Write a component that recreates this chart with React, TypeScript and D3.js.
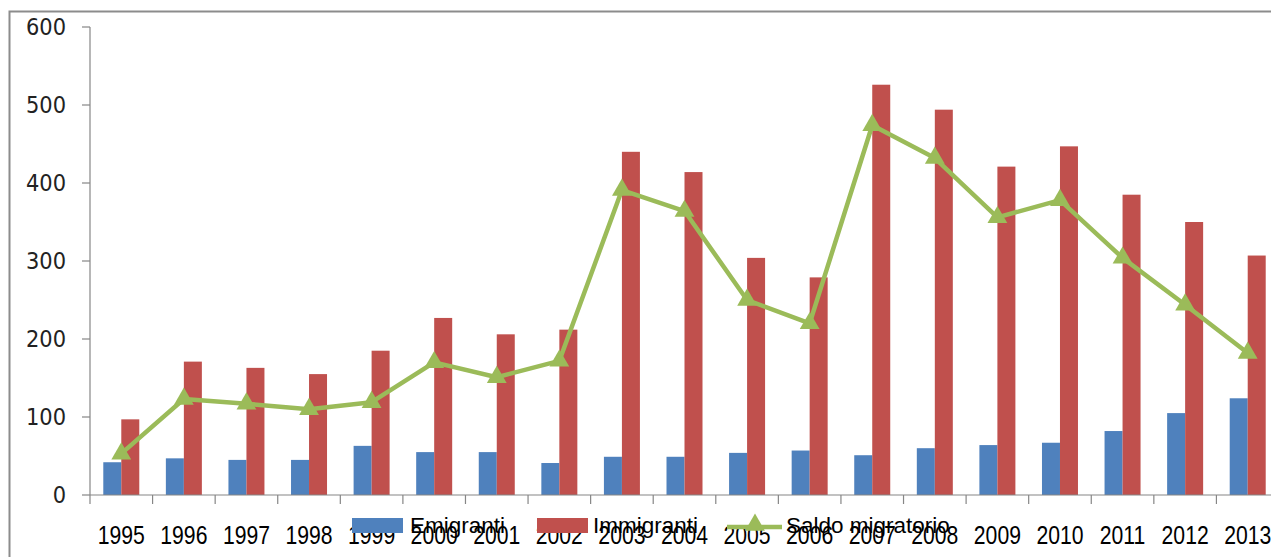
import { useEffect, useRef } from 'react';
import * as d3 from 'd3';

const years = ['1995', '1996', '1997', '1998', '1999', '2000', '2001', '2002', '2003', '2004',
  '2005', '2006', '2007', '2008', '2009', '2010', '2011', '2012', '2013'];
const emigranti = [42, 47, 45, 45, 63, 55, 55, 41, 49, 49, 54, 57, 51, 60, 64, 67, 82, 105, 124];
const immigranti = [97, 171, 163, 155, 185, 227, 206, 212, 440, 414, 304, 279, 526, 494, 421, 447, 385, 350, 307];
const saldo = [53, 123, 117, 110, 119, 170, 151, 172, 391, 364, 250, 220, 474, 432, 356, 378, 304, 244, 182];
const yTicks = [0, 100, 200, 300, 400, 500, 600];
const seriesNames = ['Emigranti', 'Immigranti', 'Saldo migratorio'];

const BLUE = '#4F81BD';
const RED = '#C0504D';
const GREEN = '#9BBB59';
const AXIS = '#868686';

export default function App() {
  const svgRef = useRef<SVGSVGElement>(null);

  useEffect(() => {
    if (!svgRef.current) return;
    const svg = d3.select(svgRef.current);
    svg.selectAll('*').remove();

    const width = 1271;
    const height = 557;
    const left = 90;
    const right = 1279;
    const top = 27;
    const bottom = 495;

    svg.append('rect').attr('width', width).attr('height', height).attr('fill', '#fff');

    // outer chart frame (cropped on right/bottom)
    svg.append('path')
      .attr('d', `M9.5,${height + 5} V11.5 H${width + 5}`)
      .attr('fill', 'none')
      .attr('stroke', '#8c8c8c')
      .attr('stroke-width', 2);

    const x = d3.scaleBand().domain(years).range([left, right]).paddingInner(0).paddingOuter(0);
    const y = d3.scaleLinear().domain([0, 600]).range([bottom, top]);
    const barW = 18;

    // y axis
    svg.append('line')
      .attr('x1', left).attr('x2', left).attr('y1', top).attr('y2', bottom)
      .attr('stroke', AXIS).attr('stroke-width', 1.2);
    yTicks.forEach(t => {
      svg.append('line')
        .attr('x1', left - 8).attr('x2', left).attr('y1', y(t)).attr('y2', y(t))
        .attr('stroke', AXIS).attr('stroke-width', 1.2);
      svg.append('text')
        .attr('transform', `translate(66, ${y(t) + 8}) scale(1, 1.12)`)
        .attr('text-anchor', 'end')
        .attr('font-family', '"DejaVu Sans", Verdana, sans-serif')
        .attr('font-size', 21)
        .attr('fill', '#222')
        .text(t);
    });

    // bars
    svg.append('g').selectAll('rect')
      .data(years)
      .enter().append('rect')
      .attr('x', d => x(d)! + x.bandwidth() / 2 - barW)
      .attr('y', (d, i) => y(emigranti[i]))
      .attr('width', barW)
      .attr('height', (d, i) => bottom - y(emigranti[i]))
      .attr('fill', BLUE);

    svg.append('g').selectAll('rect')
      .data(years)
      .enter().append('rect')
      .attr('x', d => x(d)! + x.bandwidth() / 2)
      .attr('y', (d, i) => y(immigranti[i]))
      .attr('width', barW)
      .attr('height', (d, i) => bottom - y(immigranti[i]))
      .attr('fill', RED);

    // x axis
    svg.append('line')
      .attr('x1', left).attr('x2', right).attr('y1', bottom).attr('y2', bottom)
      .attr('stroke', AXIS).attr('stroke-width', 1.2);
    years.forEach(yr => {
      svg.append('line')
        .attr('x1', x(yr)!).attr('x2', x(yr)!).attr('y1', bottom).attr('y2', bottom + 9)
        .attr('stroke', AXIS).attr('stroke-width', 1.2);
      svg.append('text')
        .attr('transform', `translate(${x(yr)! + x.bandwidth() / 2}, 544) scale(1, 1.18)`)
        .attr('text-anchor', 'middle')
        .attr('font-family', '"Liberation Sans", Arial, sans-serif')
        .attr('font-size', 21.2)
        .attr('fill', '#000')
        .text(yr);
    });

    // saldo line
    const line = d3.line<number>()
      .x((d, i) => x(years[i])! + x.bandwidth() / 2)
      .y(d => y(d));
    svg.append('path')
      .datum(saldo)
      .attr('d', line)
      .attr('fill', 'none')
      .attr('stroke', GREEN)
      .attr('stroke-width', 4.5)
      .attr('stroke-linejoin', 'round');

    const tri = d3.symbol().type(d3.symbolTriangle).size(170);
    svg.append('g').selectAll('path')
      .data(saldo)
      .enter().append('path')
      .attr('d', tri)
      .attr('transform', (d, i) => `translate(${x(years[i])! + x.bandwidth() / 2}, ${y(d)})`)
      .attr('fill', GREEN);

    // legend (sits over the year labels, as in the original)
    const legendFont = (sel: any) => sel
      .attr('font-family', '"Liberation Sans", Arial, sans-serif')
      .attr('font-size', 22.5)
      .attr('fill', '#000');

    svg.append('rect').attr('x', 352).attr('y', 518).attr('width', 51).attr('height', 15).attr('fill', BLUE);
    svg.append('text').attr('x', 410).attr('y', 533).call(legendFont).text(seriesNames[0]);

    svg.append('rect').attr('x', 537).attr('y', 518).attr('width', 51).attr('height', 15).attr('fill', RED);
    svg.append('text').attr('x', 593).attr('y', 533).call(legendFont).text(seriesNames[1]);

    svg.append('line').attr('x1', 727).attr('x2', 782).attr('y1', 527).attr('y2', 527)
      .attr('stroke', GREEN).attr('stroke-width', 4.5);
    svg.append('path').attr('d', tri).attr('transform', 'translate(755, 525)').attr('fill', GREEN);
    svg.append('text').attr('x', 786).attr('y', 533).call(legendFont).text(seriesNames[2]);
  }, []);

  return (
    <svg
      ref={svgRef}
      width={1271}
      height={557}
      style={{ position: 'fixed', left: 0, top: 0, display: 'block' }}
    />
  );
}
